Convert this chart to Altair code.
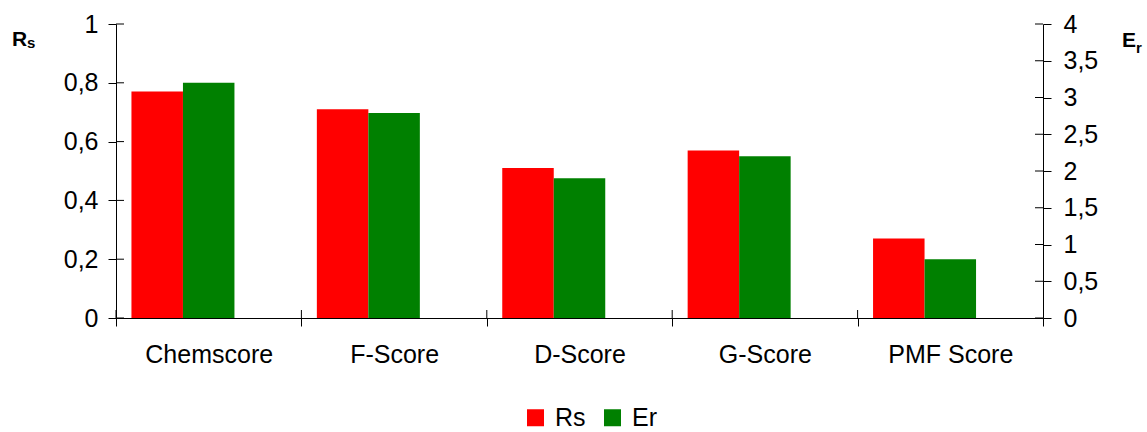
import altair as alt
import pandas as pd

FONT = "Liberation Sans"

categories = ["Chemscore", "F-Score", "D-Score", "G-Score", "PMF Score"]
rs_values = [0.77, 0.71, 0.51, 0.57, 0.27]
er_values = [3.2, 2.79, 1.9, 2.2, 0.8]
series_names = ["Rs", "Er"]
series_colors = ["#FF0000", "#008000"]
rs_ticks = [0, 0.2, 0.4, 0.6, 0.8, 1]
er_ticks = [0, 0.5, 1, 1.5, 2, 2.5, 3, 3.5, 4]

rs_df = pd.DataFrame({"category": categories, "series": "Rs", "value": rs_values})
er_df = pd.DataFrame({"category": categories, "series": "Er", "value": er_values})
rs_tick_df = pd.DataFrame({"value": rs_ticks})
er_tick_df = pd.DataFrame({"value": er_ticks})

W, H = 927, 294
FS = 25
comma = "replace(format(datum.value, '~g'), '.', ',')"

x_scale = alt.Scale(domain=categories, paddingInner=0, paddingOuter=0)
xo_scale = alt.Scale(domain=["Rs", "Er", "_"], paddingInner=0, paddingOuter=0.3)
color_scale = alt.Scale(domain=series_names, range=series_colors)
rs_yscale = alt.Scale(domain=[0, 1], nice=False)
er_yscale = alt.Scale(domain=[0, 4], nice=False)

x_axis = alt.Axis(title=None, tickBand="extent", tickSize=8, labelFontSize=FS,
                  labelPadding=16, labelAngle=0, grid=False, domainColor="black",
                  tickColor="black", labelColor="black", labelFont=FONT)
rs_axis = alt.Axis(values=rs_ticks, title=None, tickSize=8, labelPadding=10,
                   labelFontSize=FS, labelExpr=comma, grid=False,
                   domainColor="black", tickColor="black", labelColor="black",
                   labelFont=FONT, orient="left")
er_axis = alt.Axis(values=er_ticks, title=None, tickSize=8, labelPadding=12,
                   labelFontSize=FS, labelExpr=comma, grid=False,
                   domainColor="black", tickColor="black", labelColor="black",
                   labelFont=FONT, orient="right")

rs_bars = alt.Chart(rs_df).mark_bar(strokeWidth=0).encode(
    x=alt.X("category:N", sort=categories, scale=x_scale, axis=x_axis),
    xOffset=alt.XOffset("series:N", scale=xo_scale),
    y=alt.Y("value:Q", scale=rs_yscale, axis=rs_axis),
    color=alt.Color("series:N", scale=color_scale, sort=series_names,
                    legend=alt.Legend(orient="none", legendX=407, legendY=381,
                                      direction="horizontal", title=None,
                                      symbolType="square", symbolSize=289,
                                      symbolStrokeWidth=0, labelFontSize=FS,
                                      labelFont=FONT, labelColor="black",
                                      labelOffset=7, columnPadding=14, padding=0)),
)

rs_inner_ticks = alt.Chart(rs_tick_df).mark_rule(color="black", strokeWidth=1).encode(
    y=alt.Y("value:Q", scale=rs_yscale, axis=rs_axis),
    x=alt.value(0), x2=alt.value(8),
)

x_inner_ticks = alt.Chart(rs_df).mark_rule(color="black", strokeWidth=1).encode(
    x=alt.X("category:N", sort=categories, scale=x_scale, bandPosition=0, axis=x_axis),
    y=alt.value(H - 8), y2=alt.value(H),
)

title_r = alt.Chart(pd.DataFrame({"t": ["R"]})).mark_text(
    text="R", fontWeight="bold", fontSize=21, align="left", baseline="alphabetic",
    font=FONT, color="black").encode(x=alt.value(-104), y=alt.value(22))
title_s = alt.Chart(pd.DataFrame({"t": ["s"]})).mark_text(
    text="s", fontWeight="bold", fontSize=15, align="left", baseline="alphabetic",
    font=FONT, color="black").encode(x=alt.value(-89), y=alt.value(24))

left_group = alt.layer(rs_bars, rs_inner_ticks, x_inner_ticks, title_r, title_s)

er_bars = alt.Chart(er_df).mark_bar(strokeWidth=0).encode(
    x=alt.X("category:N", sort=categories, scale=x_scale, axis=x_axis),
    xOffset=alt.XOffset("series:N", scale=xo_scale),
    y=alt.Y("value:Q", scale=er_yscale, axis=er_axis),
    color=alt.Color("series:N", scale=color_scale, sort=series_names),
)

er_inner_ticks = alt.Chart(er_tick_df).mark_rule(color="black", strokeWidth=1).encode(
    y=alt.Y("value:Q", scale=er_yscale, axis=er_axis),
    x=alt.value(W - 8), x2=alt.value(W),
)

title_e = alt.Chart(pd.DataFrame({"t": ["E"]})).mark_text(
    text="E", fontWeight="bold", fontSize=21, align="left", baseline="alphabetic",
    font=FONT, color="black").encode(x=alt.value(1006), y=alt.value(23))
title_rr = alt.Chart(pd.DataFrame({"t": ["r"]})).mark_text(
    text="r", fontWeight="bold", fontSize=15, align="left", baseline="alphabetic",
    font=FONT, color="black").encode(x=alt.value(1020), y=alt.value(29))

right_group = alt.layer(er_bars, er_inner_ticks, title_e, title_rr)

chart = alt.layer(left_group, right_group).resolve_scale(y="independent").properties(
    width=W, height=H,
    autosize=alt.AutoSizeParams(type="none"),
    padding={"left": 116, "top": 24, "right": 104, "bottom": 114},
    background="white",
).configure_view(stroke=None)

chart.save("out.html", embed_options={"renderer": "svg", "actions": False})
